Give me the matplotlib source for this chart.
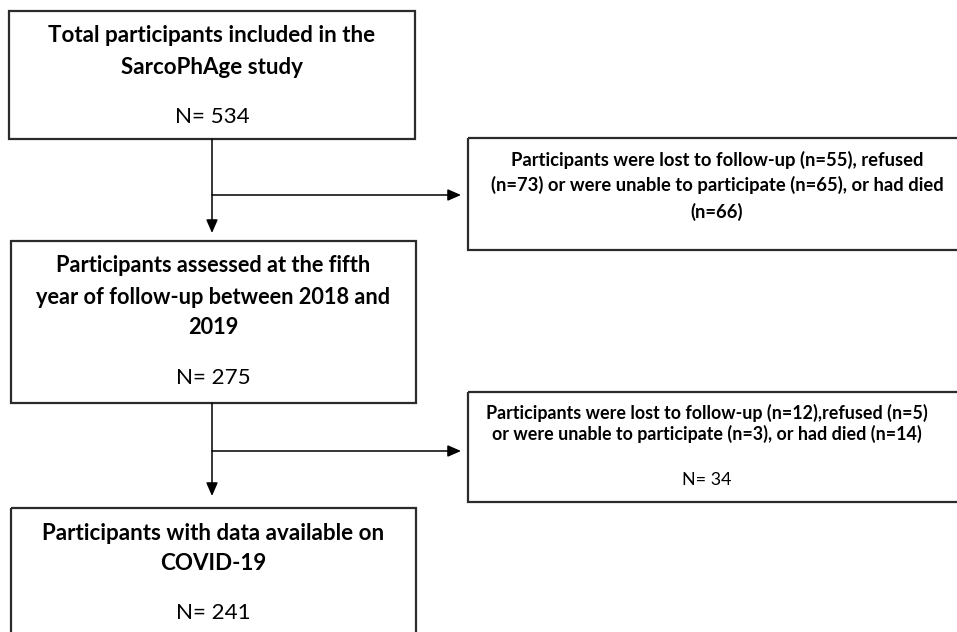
import matplotlib
matplotlib.use("Agg")
import matplotlib.pyplot as plt
from matplotlib.patches import Rectangle

W, H = 957, 632
FONT = ["Lato", "DejaVu Sans"]

# ---- content ----
box1_lines = ["Total participants included in the", "SarcoPhAge study"]
box1_n = "N= 534"
box2_lines = ["Participants assessed at the fifth", "year of follow-up between 2018 and", "2019"]
box2_n = "N= 275"
box3_lines = ["Participants with data available on", "COVID-19"]
box3_n = "N= 241"
side1_lines = ["Participants were lost to follow-up (n=55), refused",
               "(n=73) or were unable to participate (n=65), or had died",
               "(n=66)"]
side2_lines = ["Participants were lost to follow-up (n=12),refused (n=5)",
               "or were unable to participate (n=3), or had died (n=14)"]
side2_n = "N= 34"

fig = plt.figure(figsize=(W / 100, H / 100), dpi=100)
ax = fig.add_axes([0, 0, 1, 1])
ax.set_xlim(0, W)
ax.set_ylim(H, 0)
ax.axis("off")

BOXC = "#2b2b2b"
def box(x0, y0, x1, y1):
    ax.add_patch(Rectangle((x0, y0), x1 - x0, y1 - y0, fill=False,
                           edgecolor=BOXC, linewidth=1.6, clip_on=False))

box(9, 11, 415, 139)
box(11, 241, 416, 403)
box(11, 508, 416, 660)
box(468, 138, 980, 250)
box(468, 392, 980, 502)

fig.canvas.draw()
renderer = fig.canvas.get_renderer()

def fit_lines(lines, ys, cx, target_w, weight="bold", start=14):
    objs = [ax.text(cx, y, s, ha="center", va="center", family=FONT,
                    fontweight=weight, fontsize=start, color="black")
            for s, y in zip(lines, ys)]
    wmax = max(o.get_window_extent(renderer).width for o in objs)
    fs = start * target_w / wmax
    for o in objs:
        o.set_fontsize(fs)
    return fs

fs_main = fit_lines(box1_lines, [36, 68], 212, 329)
ax.text(212, 117, box1_n, ha="center", va="center", family=FONT, fontsize=fs_main)
fit_lines(box2_lines, [266, 297, 328], 213, 356)
ax.text(213, 378, box2_n, ha="center", va="center", family=FONT, fontsize=fs_main)
fit_lines(box3_lines, [533, 563], 213, 344)
ax.text(213, 613, box3_n, ha="center", va="center", family=FONT, fontsize=fs_main)

fit_lines(side1_lines, [160, 185, 212], 717, 455)
fs_s2 = fit_lines(side2_lines, [413, 434], 707, 443)
ax.text(707, 480, side2_n, ha="center", va="center", family=FONT, fontsize=fs_s2)

def arrow(x0, y0, x1, y1):
    ax.annotate("", xy=(x1, y1), xytext=(x0, y0),
                arrowprops=dict(arrowstyle="-|>,head_length=0.8,head_width=0.35",
                                color="black", lw=1.1, shrinkA=0, shrinkB=0))

# connectors
arrow(212, 139, 212, 233)
ax.plot([212, 212], [195, 195], color="black")
arrow(212, 195, 461, 195)
arrow(212, 403, 212, 496)
arrow(212, 451, 461, 451)

fig.savefig("out.png", dpi=100)
